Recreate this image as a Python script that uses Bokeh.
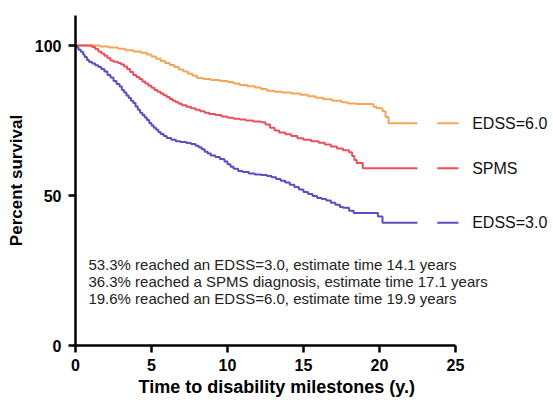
from bokeh.plotting import figure
from bokeh.models import Range1d, FixedTicker, Title
from bokeh.embed import file_html
from bokeh.resources import INLINE
from bokeh.core.properties import value

# ---- data ----
series_names = ["EDSS=6.0", "SPMS", "EDSS=3.0"]
series_colors = ["#F4A55A", "#E8505C", "#5B4EC0"]

edss6_t = [0, 1.6, 2.2, 2.8, 3.3, 3.8, 4.3, 4.7, 5.0, 5.3, 5.6, 5.9, 6.2, 6.5, 6.8, 7.1, 7.4, 7.7,
           8.0, 8.4, 8.9, 9.5, 10.0, 10.4, 10.8, 11.3, 11.8, 12.2, 12.6, 13.1, 13.6, 14.2, 14.8,
           15.3, 15.8, 16.3, 16.9, 17.5, 17.9, 18.5, 19.6, 19.8, 20.2, 20.4, 20.6, 22.5]
edss6_s = [100, 99.7, 99.3, 98.9, 98.4, 98.0, 97.6, 97.0, 96.3, 95.6, 94.8, 94.2, 93.5, 92.8, 92.0,
           91.3, 90.6, 89.9, 89.2, 88.8, 88.5, 88.2, 87.8, 87.3, 86.8, 86.4, 86.0, 85.5, 84.9, 84.6,
           84.3, 84.0, 83.6, 83.1, 82.6, 82.1, 81.6, 81.1, 80.7, 80.5, 79.6, 79.1, 78.1, 76.2, 74.1,
           74.1]

spms_t = [0, 1.1, 1.3, 1.5, 1.7, 1.9, 2.1, 2.3, 2.5, 2.8, 3.0, 3.2, 3.4, 3.6, 3.8, 4.0, 4.2, 4.4,
          4.6, 4.8, 5.0, 5.2, 5.4, 5.6, 5.8, 6.0, 6.2, 6.4, 6.6, 6.8, 7.0, 7.3, 7.6, 7.9, 8.2, 8.5,
          8.8, 9.2, 9.6, 10.0, 10.4, 10.8, 11.2, 11.7, 12.2, 12.5, 12.8, 13.1, 13.4, 13.8, 14.2,
          14.6, 15.0, 15.5, 16.0, 16.4, 16.8, 17.2, 17.6, 18.0, 18.2, 18.35, 18.5, 18.9, 22.5]
spms_s = [100, 99.5, 98.8, 98.0, 97.3, 96.6, 95.8, 95.0, 94.6, 94.2, 93.7, 93.0, 92.2, 91.2, 90.2,
          89.5, 88.8, 88.0, 87.3, 86.6, 85.9, 85.2, 84.6, 84.0, 83.4, 82.8, 82.2, 81.6, 81.1, 80.6,
          80.1, 79.6, 79.1, 78.6, 78.1, 77.6, 77.2, 76.8, 76.3, 75.9, 75.6, 75.3, 75.0, 74.7, 74.4,
          73.7, 72.6, 71.7, 71.0, 70.4, 69.8, 69.1, 68.6, 68.1, 67.6, 67.0, 66.3, 65.7, 65.1, 64.4,
          63.2, 61.8, 60.8, 59.1, 59.1]

edss3_t = [0, 0.1, 0.2, 0.35, 0.5, 0.6, 0.75, 0.9, 1.1, 1.3, 1.5, 1.7, 1.9, 2.1, 2.3, 2.5, 2.7,
           2.9, 3.05, 3.2, 3.35, 3.5, 3.65, 3.8, 3.95, 4.1, 4.25, 4.4, 4.55, 4.7, 4.85, 5.0, 5.15,
           5.3, 5.45, 5.6, 5.8, 6.0, 6.3, 6.6, 6.9, 7.3, 7.6, 7.9, 8.1, 8.3, 8.5, 8.7, 8.9, 9.2,
           9.5, 9.8, 10.0, 10.2, 10.4, 10.7, 11.0, 11.4, 11.8, 12.2, 12.6, 12.9, 13.2, 13.5, 13.8,
           14.1, 14.4, 14.7, 15.0, 15.3, 15.6, 15.9, 16.2, 16.5, 16.8, 17.1, 17.4, 17.6, 18.0,
           18.3, 19.9, 20.2, 22.5]
edss3_s = [100, 99.3, 98.6, 97.9, 97.0, 96.2, 95.2, 94.5, 94.0, 93.4, 92.8, 92.2, 91.3, 90.2, 89.3,
           88.2, 87.2, 86.3, 85.2, 84.3, 83.3, 82.5, 81.6, 80.8, 79.7, 78.6, 77.6, 76.8, 76.0, 75.2,
           74.2, 73.3, 72.6, 71.9, 71.2, 70.5, 69.8, 69.2, 68.6, 68.1, 67.8, 67.5, 67.2, 66.6, 66.1,
           65.4, 64.6, 64.0, 63.3, 62.8, 62.2, 61.3, 60.4, 59.6, 58.9, 58.2, 57.8, 57.3, 57.0, 56.8,
           56.5, 56.1, 55.5, 54.9, 54.3, 53.6, 52.8, 52.0, 51.2, 50.5, 49.8, 49.2, 48.8, 48.3, 47.6,
           46.9, 46.2, 45.9, 44.9, 44.2, 43.0, 40.9, 40.9]

notes = [
    "53.3% reached an EDSS=3.0, estimate time 14.1 years",
    "36.3% reached a SPMS diagnosis, estimate time 17.1 years",
    "19.6% reached an EDSS=6.0, estimate time 19.9 years",
]
x_ticks = [0, 5, 10, 15, 20, 25]
y_ticks = [0, 50, 100]
x_title = "Time to disability milestones (y.)"
y_title = "Percent survival"

FONT = "Liberation Sans"

# frame: left 75, right 553, top 15, bottom 345 (page pixels)
p = figure(width=553, height=404, output_backend="svg", toolbar_location=None,
           x_range=Range1d(0, 31.45), y_range=Range1d(0, 110),
           min_border_left=75, min_border_right=0, min_border_top=15, min_border_bottom=59)
p.outline_line_color = None
p.xgrid.visible = False
p.ygrid.visible = False
p.background_fill_color = "white"
p.border_fill_color = "white"

for ax in (p.xaxis[0], p.yaxis[0]):
    ax.axis_line_width = 2.5
    ax.axis_line_color = "black"
    ax.major_tick_line_width = 2.5
    ax.major_tick_line_color = "black"
    ax.major_tick_out = 7
    ax.major_tick_in = 0
    ax.minor_tick_line_color = None
    ax.major_label_text_font = FONT
    ax.major_label_text_font_style = "bold"
    ax.major_label_text_font_size = "16px"
    ax.major_label_text_color = "black"
    ax.axis_label_text_font = FONT
    ax.axis_label_text_font_style = "bold"
    ax.axis_label_text_font_size = "17px"
    ax.axis_label_text_color = "black"

p.xaxis.major_label_standoff = 6
p.yaxis.major_label_standoff = 7
p.xaxis.ticker = FixedTicker(ticks=x_ticks)
p.yaxis.ticker = FixedTicker(ticks=y_ticks)
p.xaxis.bounds = (0, 25)
p.yaxis.bounds = (0, 110)
p.yaxis.axis_label = y_title
p.yaxis.axis_label_standoff = 6

# x-axis title placed under the drawn axis (not centred on the whole frame)
p.add_layout(Title(text=x_title, align="left", offset=63, standoff=2,
                   text_font=FONT, text_font_style="bold", text_font_size="18px",
                   text_color="black"), "below")

curves = [(edss6_t, edss6_s), (spms_t, spms_s), (edss3_t, edss3_s)]
leg_x0, leg_x1, leg_tx = 23.8, 25.2, 26.1
for (t, s), name, col in zip(curves, series_names, series_colors):
    p.step(t, s, mode="after", line_color=col, line_width=2)
    last = s[-1]
    p.segment(x0=[leg_x0], x1=[leg_x1], y0=[last], y1=[last], line_color=col, line_width=2)
    p.text(x=[leg_tx], y=[last], text=[name], text_font=value(FONT), text_font_size="16px",
           text_baseline="middle", text_align="left", text_color="#111111")

note_y = [26.9, 21.3, 15.6]
p.text(x=[0.85] * 3, y=note_y, text=notes, text_font=value(FONT), text_font_size="15px",
       text_baseline="middle", text_align="left", text_color="#222222")

open("out.html", "w").write(file_html(p, INLINE))
